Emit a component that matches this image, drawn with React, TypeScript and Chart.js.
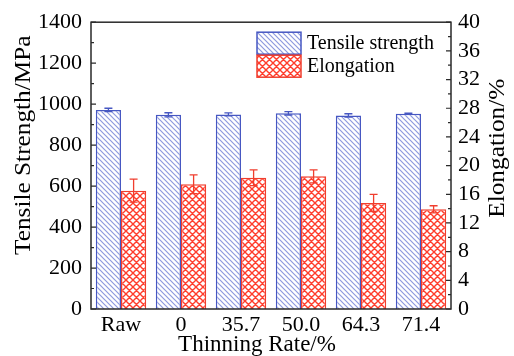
import React, { useEffect, useRef } from 'react';
import { Chart, registerables } from 'chart.js';

Chart.register(...registerables);

const categories = ['Raw', '0', '35.7', '50.0', '64.3', '71.4'];
const tensileStrength = [972, 948, 950, 955, 945, 953];
const tensileError = [8, 10, 7, 8, 8, 3];
const elongation = [16.5, 17.4, 18.3, 18.5, 14.8, 13.9];
const elongationError = [1.6, 1.3, 1.1, 0.9, 1.2, 0.5];
const strengthTicks = [0, 200, 400, 600, 800, 1000, 1200, 1400];
const elongationTicks = [0, 4, 8, 12, 16, 20, 24, 28, 32, 36, 40];

const seriesLabels = ['Tensile strength', 'Elongation'];
const axisTitles = { x: 'Thinning Rate/%', y: 'Tensile Strength/MPa', y1: 'Elongation/%' };

const FONT = "'Liberation Serif', 'Times New Roman', Times, serif";
const BLUE = '#4657c2';
const BLUE_HATCH = '#8e9ade';
const RED = '#f03e2e';
const RED_HATCH = '#ff3d2c';
const AXIS = '#2a2a2a';

function makeHatch(): CanvasPattern {
  const s = 5;
  const c = document.createElement('canvas');
  c.width = s;
  c.height = s;
  const g = c.getContext('2d')!;
  g.fillStyle = '#fff';
  g.fillRect(0, 0, s, s);
  g.strokeStyle = BLUE_HATCH;
  g.lineWidth = 1.2;
  g.beginPath();
  g.moveTo(-1, -1); g.lineTo(s + 1, s + 1);
  g.moveTo(-1, s - 1); g.lineTo(1, s + 1);
  g.moveTo(s - 1, -1); g.lineTo(s + 1, 1);
  g.stroke();
  return g.createPattern(c, 'repeat')!;
}

function makeCross(): CanvasPattern {
  const s = 7;
  const c = document.createElement('canvas');
  c.width = s;
  c.height = s;
  const g = c.getContext('2d')!;
  g.fillStyle = '#fff';
  g.fillRect(0, 0, s, s);
  g.strokeStyle = RED_HATCH;
  g.lineWidth = 1.4;
  g.beginPath();
  g.moveTo(-1, -1); g.lineTo(s + 1, s + 1);
  g.moveTo(-1, s - 1); g.lineTo(1, s + 1);
  g.moveTo(s - 1, -1); g.lineTo(s + 1, 1);
  g.moveTo(-1, s + 1); g.lineTo(s + 1, -1);
  g.moveTo(-1, 1); g.lineTo(1, -1);
  g.moveTo(s - 1, s + 1); g.lineTo(s + 1, s - 1);
  g.stroke();
  return g.createPattern(c, 'repeat')!;
}

export default function App() {
  const ref = useRef<HTMLCanvasElement | null>(null);

  useEffect(() => {
    const canvas = ref.current;
    if (!canvas) return;
    const hatch = makeHatch();
    const cross = makeCross();
    const errors = [tensileError, elongationError];
    const colors = [BLUE, RED];
    const fills = [hatch, cross];

    const decor = {
      id: 'decor',
      afterDatasetsDraw(chart: any) {
        const ctx = chart.ctx as CanvasRenderingContext2D;
        ctx.save();
        chart.data.datasets.forEach((ds: any, i: number) => {
          const meta = chart.getDatasetMeta(i);
          const ys = chart.scales[meta.yAxisID];
          ctx.strokeStyle = colors[i];
          ctx.lineWidth = 1.3;
          meta.data.forEach((el: any, j: number) => {
            const v = ds.data[j];
            const e = errors[i][j];
            const yt = ys.getPixelForValue(v + e);
            const yb = ys.getPixelForValue(v - e);
            const x = el.x;
            ctx.beginPath();
            ctx.moveTo(x, yt); ctx.lineTo(x, yb);
            ctx.moveTo(x - 4, yt); ctx.lineTo(x + 4, yt);
            ctx.moveTo(x - 4, yb); ctx.lineTo(x + 4, yb);
            ctx.stroke();
          });
        });
        ctx.restore();
      },
      afterDraw(chart: any) {
        const ctx = chart.ctx as CanvasRenderingContext2D;
        const a = chart.chartArea;
        ctx.save();
        ctx.strokeStyle = AXIS;
        ctx.lineWidth = 1.5;
        ctx.strokeRect(a.left, a.top, a.right - a.left, a.bottom - a.top);
        const drawTicks = (scale: any, vals: number[], x0: number, dir: number) => {
          ctx.beginPath();
          for (let k = 0; k < vals.length; k++) {
            const y = scale.getPixelForValue(vals[k]);
            ctx.moveTo(x0, y); ctx.lineTo(x0 + dir * 5, y);
            if (k < vals.length - 1) {
              const ym = scale.getPixelForValue((vals[k] + vals[k + 1]) / 2);
              ctx.moveTo(x0, ym); ctx.lineTo(x0 + dir * 3, ym);
            }
          }
          ctx.stroke();
        };
        ctx.lineWidth = 1.2;
        drawTicks(chart.scales.y, strengthTicks, a.left, 1);
        drawTicks(chart.scales.y1, elongationTicks, a.right, -1);

        const lx = a.left + 166;
        const ly = a.top + 10;
        for (let i = 0; i < 2; i++) {
          const by = ly + i * 23;
          ctx.fillStyle = fills[i];
          ctx.fillRect(lx, by, 44, 22);
          ctx.strokeStyle = colors[i];
          ctx.lineWidth = 1.5;
          ctx.strokeRect(lx, by, 44, 22);
          ctx.fillStyle = '#000';
          ctx.font = `20px ${FONT}`;
          ctx.textAlign = 'left';
          ctx.textBaseline = 'middle';
          ctx.fillText(seriesLabels[i], lx + 50, by + 12);
        }

        ctx.fillStyle = '#000';
        ctx.font = `23px ${FONT}`;
        ctx.textAlign = 'center';
        ctx.textBaseline = 'middle';
        ctx.fillText(axisTitles.x, (a.left + a.right) / 2 - 14, 345);

        ctx.save();
        ctx.translate(24, a.top + 123);
        ctx.rotate(-Math.PI / 2);
        ctx.scale(1.1, 1);
        ctx.fillText(axisTitles.y, 0, 0);
        ctx.restore();

        ctx.save();
        ctx.translate(498, a.top + 126);
        ctx.rotate(-Math.PI / 2);
        ctx.scale(1.1, 1);
        ctx.fillText(axisTitles.y1, 0, 0);
        ctx.restore();

        ctx.restore();
      },
    };

    const tickFont = { family: FONT, size: 22 };
    const plain = (v: any) => String(v);

    const chart = new Chart(canvas, {
      type: 'bar',
      data: {
        labels: categories,
        datasets: [
          {
            label: seriesLabels[0],
            data: tensileStrength,
            yAxisID: 'y',
            backgroundColor: hatch as any,
            borderColor: BLUE,
            borderWidth: 1.5,
            categoryPercentage: 0.84,
            barPercentage: 1,
          },
          {
            label: seriesLabels[1],
            data: elongation,
            yAxisID: 'y1',
            backgroundColor: cross as any,
            borderColor: RED,
            borderWidth: 1.5,
            categoryPercentage: 0.84,
            barPercentage: 1,
          },
        ],
      },
      options: {
        responsive: false,
        animation: false,
        devicePixelRatio: 1,
        layout: { padding: { top: 20, left: 0, right: 0, bottom: 0 } },
        plugins: { legend: { display: false }, tooltip: { enabled: false } },
        scales: {
          x: {
            grid: { display: false, drawTicks: false },
            border: { display: false },
            ticks: { font: tickFont, color: '#000', padding: 3, maxRotation: 0, autoSkip: false },
            afterFit: (s: any) => { s.height = 47; },
          },
          y: {
            position: 'left',
            min: 0,
            max: 1400,
            afterBuildTicks: (s: any) => { s.ticks = strengthTicks.map((v) => ({ value: v })); },
            grid: { display: false, drawTicks: false },
            border: { display: false },
            ticks: { font: tickFont, color: '#000', padding: 9, autoSkip: false, callback: plain },
            afterFit: (s: any) => { s.width = 91; },
          },
          y1: {
            position: 'right',
            min: 0,
            max: 40,
            afterBuildTicks: (s: any) => { s.ticks = elongationTicks.map((v) => ({ value: v })); },
            grid: { display: false, drawTicks: false },
            border: { display: false },
            ticks: { font: tickFont, color: '#000', padding: 7, autoSkip: false, callback: plain },
            afterFit: (s: any) => { s.width = 63; },
          },
        },
      },
      plugins: [decor],
    });

    return () => chart.destroy();
  }, []);

  return (
    <div style={{ position: 'absolute', left: 0, top: 0, width: 514, height: 356, background: '#fff' }}>
      <canvas ref={ref} width={514} height={356} style={{ display: 'block', width: 514, height: 356 }} />
    </div>
  );
}
